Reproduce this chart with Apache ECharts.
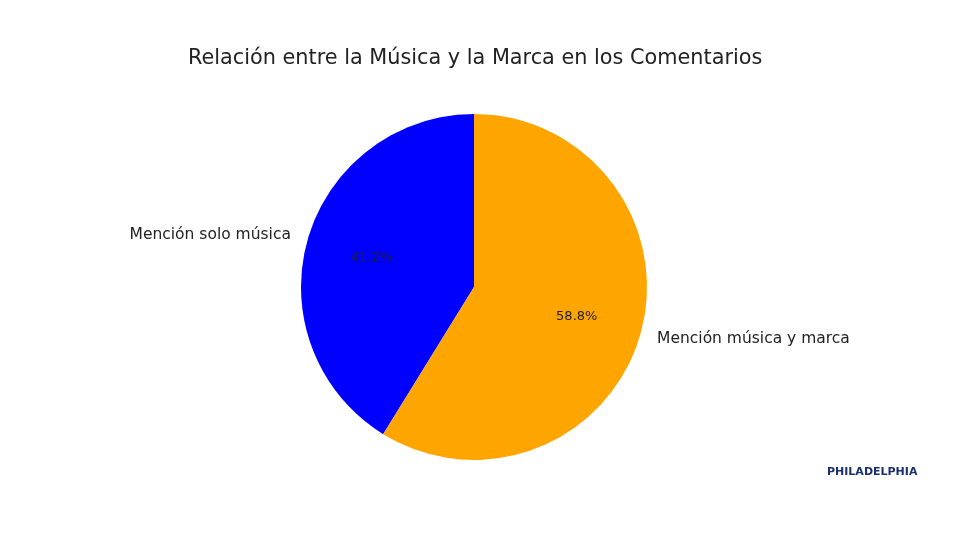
<!DOCTYPE html>
<html><head><meta charset="utf-8">
<script src="https://cdn.jsdelivr.net/npm/echarts@6/dist/echarts.min.js"></script>
<style>html,body{margin:0;background:#fff}#c{width:980px;height:551px}</style>
</head><body><div id="c"></div>
<script>
const categories = ["Mención solo música", "Mención música y marca"];
const values = [41.2, 58.8];
const colors = ["#0000ff", "#ffa500"];
const chart = echarts.init(document.getElementById('c'));
const F = 'DejaVu Sans';
const data = categories.map((n,i)=>({name:n,value:values[i],itemStyle:{color:colors[i]}}));
const tdata = categories.map((n,i)=>({name:n,value:values[i]}));
const R = 173, C = [474, 287];
chart.setOption({
  animation:false,
  title:{text:'Relación entre la Música y la Marca en los Comentarios',left:183,top:43,
    textStyle:{fontFamily:F,fontSize:20.8,fontWeight:'normal',color:'#222'}},
  series:[
    {type:'pie',center:C,radius:[0,R],startAngle:90,clockwise:false,data:data,
     label:{show:false},labelLine:{show:false},emphasis:{disabled:true}},
    {type:'pie',center:C,radius:[0.2*R,R],startAngle:90,clockwise:false,data:tdata,silent:true,
     itemStyle:{color:'rgba(0,0,0,0)'},
     label:{position:'inside',formatter:p=>p.value.toFixed(1)+'%',fontFamily:F,fontSize:13,color:'#222'},
     labelLine:{show:false}},
    {type:'pie',center:C,radius:[R,1.1*R],startAngle:90,clockwise:false,data:tdata,silent:true,
     itemStyle:{color:'rgba(0,0,0,0)'},
     label:{position:'outside',formatter:'{b}',fontFamily:F,fontSize:15.5,color:'#222',distanceToLabelLine:0},
     labelLine:{show:false,length:0,length2:0}}
  ],
  graphic:[{type:'text',left:827,top:467,style:{text:'PHILADELPHIA',fontFamily:F,fontSize:11,fontWeight:'bold',fill:'#1a2f6e'}}]
});
</script></body></html>
